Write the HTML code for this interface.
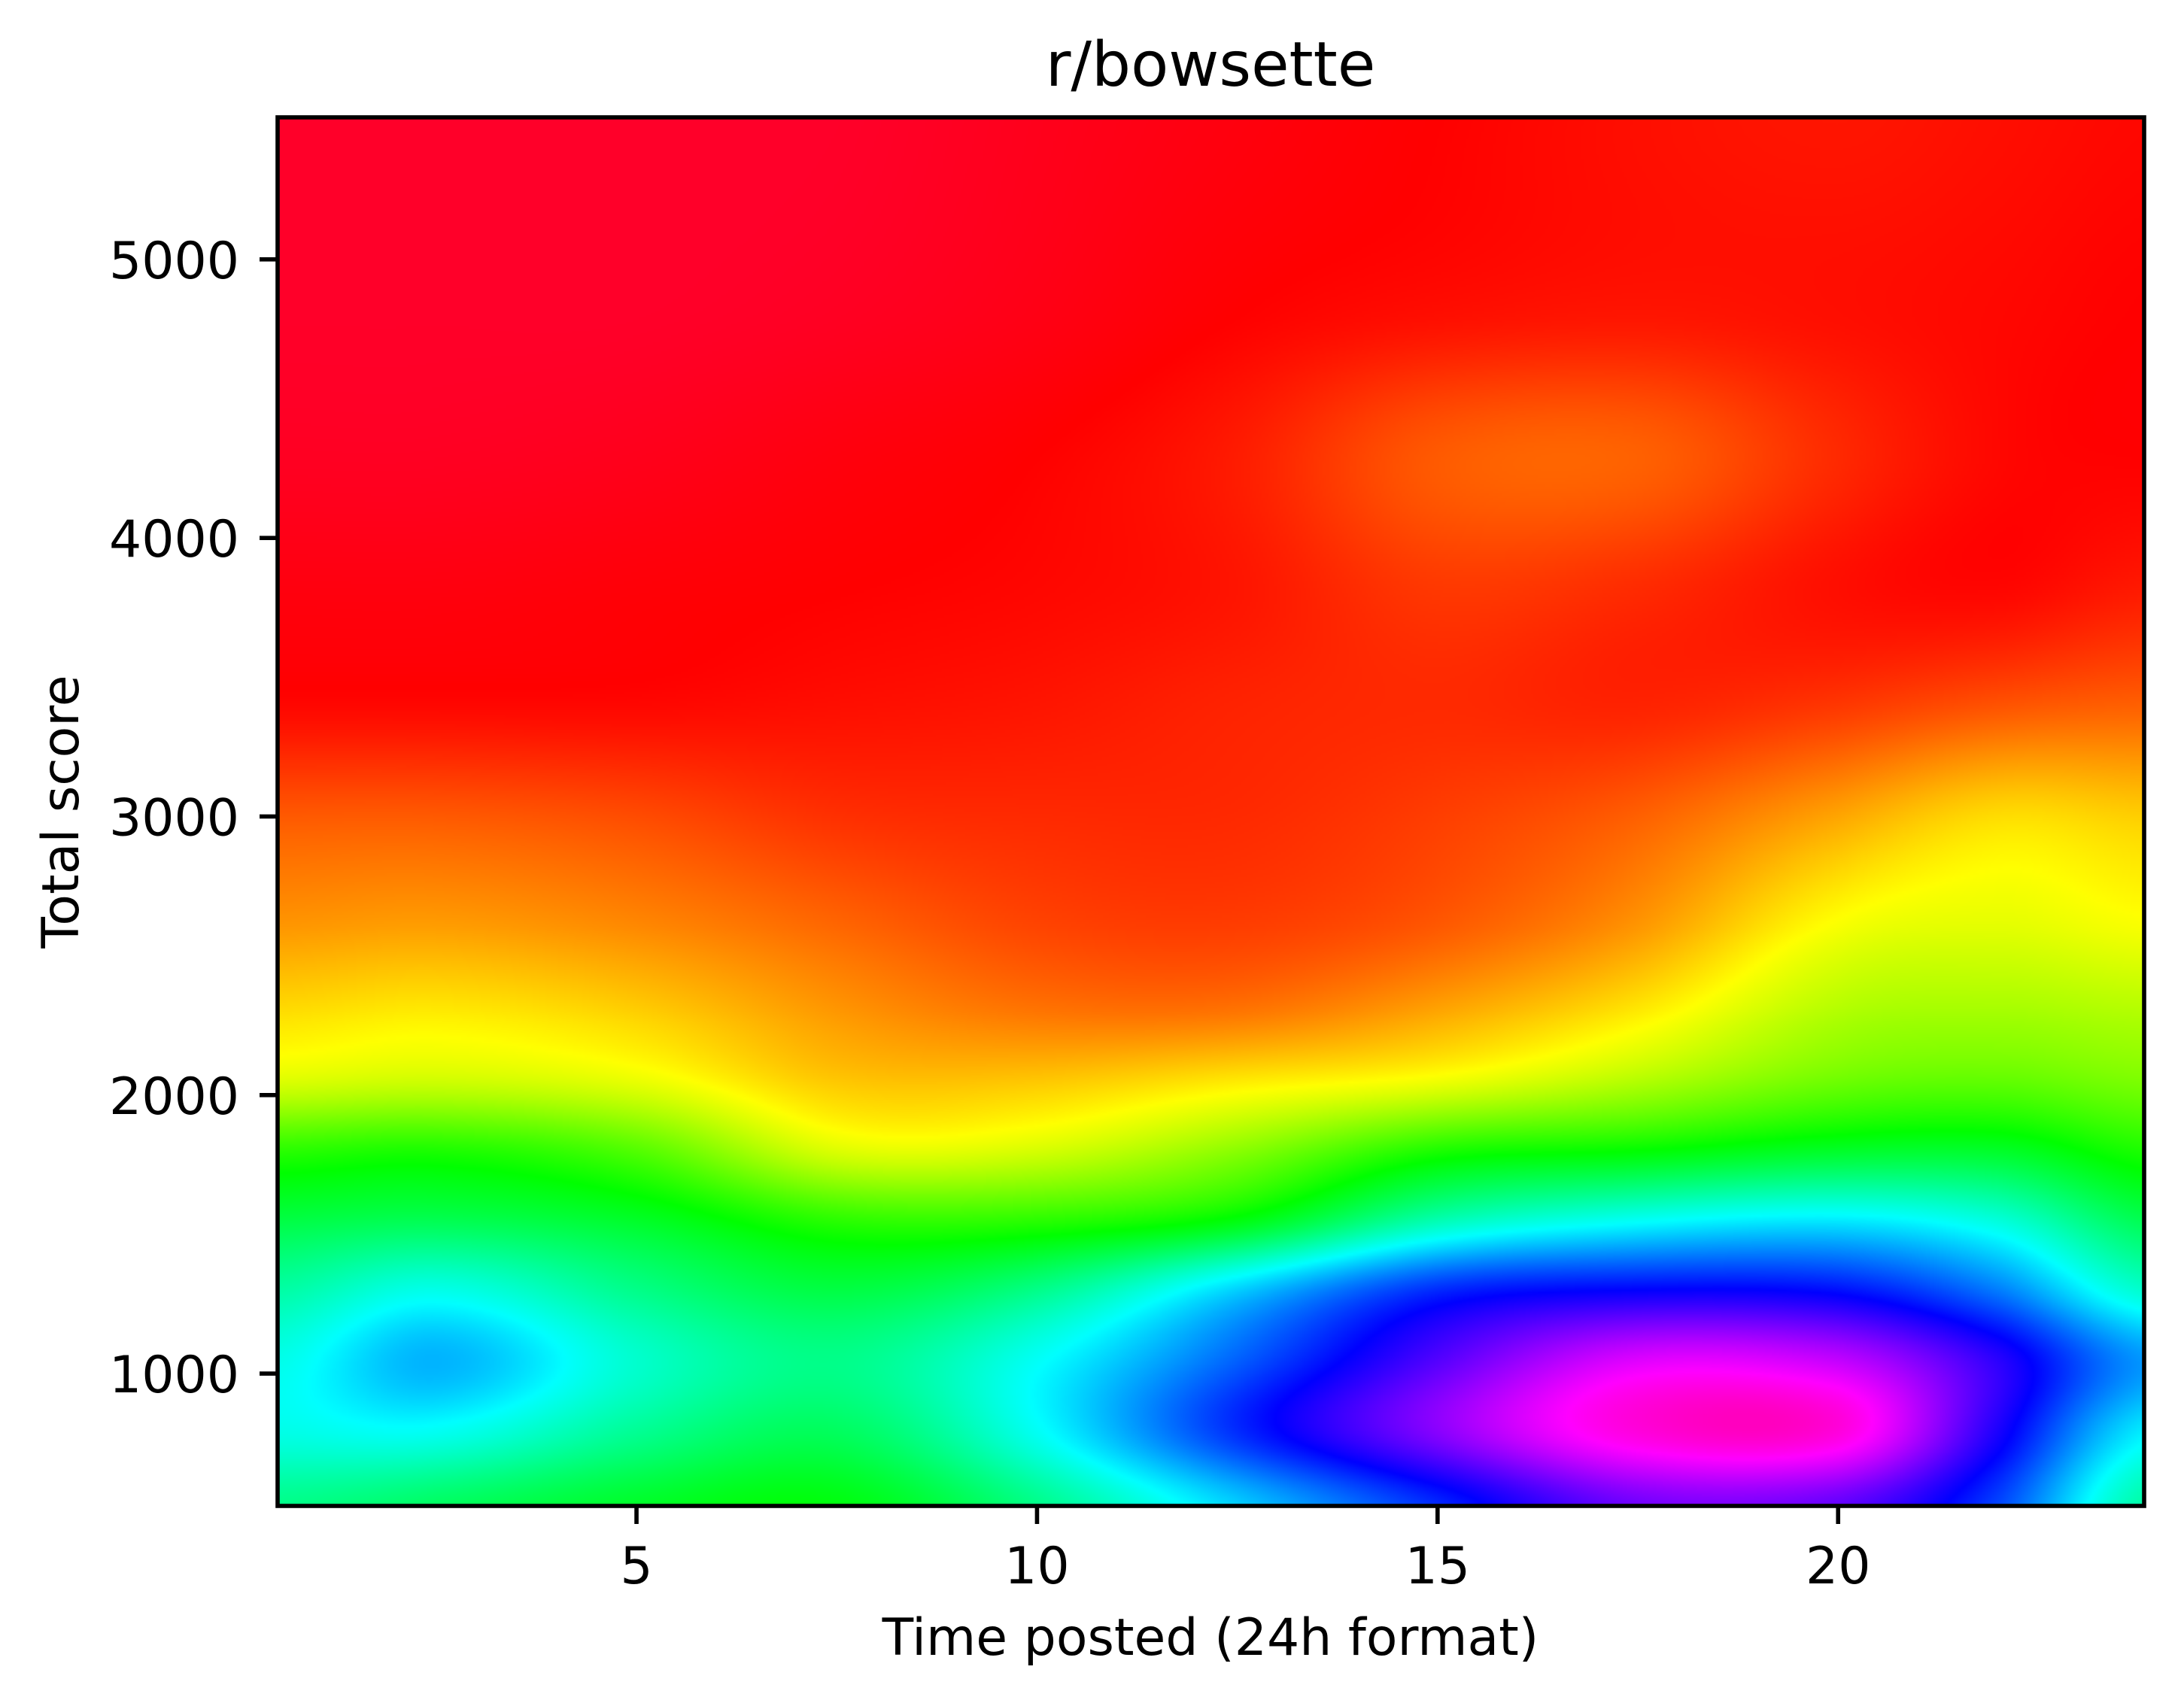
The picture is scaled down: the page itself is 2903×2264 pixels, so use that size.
<!DOCTYPE html>
<html><head><meta charset="utf-8">
<style>
html,body{margin:0;padding:0;background:#fff;}
#wrap{position:relative;width:2903px;height:2264px;overflow:hidden;background:#fff;}
#heat{position:absolute;left:369px;top:156px;width:2481px;height:1846px;}
svg{position:absolute;left:0;top:0;}
text{font-family:"DejaVu Sans","Liberation Sans",sans-serif;fill:#000;}
</style></head>
<body>
<div id="wrap">
<canvas id="heat" width="827" height="615"></canvas>
<svg id="ov" width="2903" height="2264">
<text x="1609" y="114" font-size="82" text-anchor="middle">r/bowsette</text>
<text x="1609" y="2200" font-size="68" text-anchor="middle">Time posted (24h format)</text>
<text transform="translate(104,1079) rotate(-90)" font-size="68" text-anchor="middle">Total score</text>
<g id="xticks"></g>
<g id="yticks"></g>
<rect x="369" y="156" width="2481" height="1846" fill="none" stroke="#000" stroke-width="5.6"/>
</svg>
</div>
<script>
const xKnots = [0.52, 2.5, 5, 7.5, 10, 12.5, 15, 17.5, 20, 22, 23.82];
const yKnots = [525, 800, 1050, 1300, 1550, 1800, 2050, 2300, 2600, 3000, 3400, 3800, 4300, 4800, 5510];
const densityRows = [
 [0.5,0.47,0.43,0.41,0.5,0.62,0.74,0.85,0.84,0.72,0.52],
 [0.57,0.58,0.51,0.47,0.58,0.74,0.87,0.98,0.98,0.79,0.6],
 [0.57,0.64,0.55,0.5,0.58,0.7,0.83,0.93,0.91,0.8,0.66],
 [0.52,0.57,0.5,0.45,0.5,0.62,0.74,0.77,0.76,0.68,0.55],
 [0.45,0.46,0.43,0.37,0.37,0.41,0.53,0.58,0.6,0.56,0.46],
 [0.37,0.38,0.34,0.24,0.245,0.3,0.38,0.40,0.43,0.43,0.38],
 [0.24,0.25,0.23,0.175,0.175,0.2,0.225,0.27,0.32,0.33,0.31],
 [0.19,0.2,0.18,0.14,0.115,0.115,0.15,0.2,0.27,0.28,0.27],
 [0.14,0.145,0.13,0.105,0.08,0.075,0.095,0.14,0.22,0.235,0.22],
 [0.095,0.095,0.085,0.065,0.06,0.06,0.075,0.10,0.15,0.19,0.18],
 [0.035,0.035,0.035,0.04,0.045,0.055,0.06,0.055,0.07,0.09,0.1],
 [0.02,0.02,0.025,0.03,0.035,0.045,0.07,0.06,0.04,0.035,0.05],
 [0.005,0.005,0.01,0.02,0.03,0.05,0.095,0.1,0.06,0.035,0.03],
 [0,0,0,0.005,0.015,0.03,0.04,0.045,0.04,0.035,0.03],
 [0,0,0,0,0.01,0.02,0.03,0.04,0.045,0.04,0.035]
];
const xTickValues = [5, 10, 15, 20];
const xTickLabels = ["5", "10", "15", "20"];
const yTickValues = [1000, 2000, 3000, 4000, 5000];
const yTickLabels = ["1000", "2000", "3000", "4000", "5000"];

const PL = 369, PT = 156, PW = 2481, PH = 1846;
const X0 = 0.52, X1 = 23.82, Y0 = 525, Y1 = 5510;
function xScale(v){ return PL + (v - X0) / (X1 - X0) * PW; }
function yScale(v){ return PT + PH - (v - Y0) / (Y1 - Y0) * PH; }

const cmapStops = [[0,[1,0,0.16]],[0.03,[1,0,0]],[0.215,[1,1,0]],[0.4,[0,1,0]],[0.586,[0,1,1]],[0.77,[0,0,1]],[0.954,[1,0,1]],[1,[1,0,0.75]]];
function cmap(v){
  v = Math.max(0, Math.min(1, v));
  for (let i = 1; i < cmapStops.length; i++) {
    if (v <= cmapStops[i][0]) {
      const a = cmapStops[i-1], b = cmapStops[i];
      const t = (v - a[0]) / (b[0] - a[0]);
      return [0,1,2].map(k => Math.round(255 * (a[1][k] + (b[1][k] - a[1][k]) * t)));
    }
  }
  return [255,0,191];
}
function fracIndex(knots, v){
  if (v <= knots[0]) return 0;
  for (let i = 1; i < knots.length; i++) if (v <= knots[i]) return i - 1 + (v - knots[i-1]) / (knots[i] - knots[i-1]);
  return knots.length - 1;
}
function cr(p0,p1,p2,p3,t){
  return 0.5*((2*p1)+(-p0+p2)*t+(2*p0-5*p1+4*p2-p3)*t*t+(-p0+3*p1-3*p2+p3)*t*t*t);
}
function get(r,c){
  r = Math.max(0, Math.min(densityRows.length-1, r));
  c = Math.max(0, Math.min(xKnots.length-1, c));
  return densityRows[r][c];
}
function sample(fx, fy){
  const ix = Math.floor(fx), iy = Math.floor(fy);
  const tx = fx - ix, ty = fy - iy;
  const cols = [];
  for (let j = -1; j <= 2; j++) {
    cols.push(cr(get(iy+j,ix-1), get(iy+j,ix), get(iy+j,ix+1), get(iy+j,ix+2), tx));
  }
  return cr(cols[0], cols[1], cols[2], cols[3], ty);
}
(function draw(){
  const cv = document.getElementById('heat');
  const ctx = cv.getContext('2d');
  const W = cv.width, H = cv.height;
  const img = ctx.createImageData(W, H);
  const fxs = [];
  for (let i = 0; i < W; i++) fxs.push(fracIndex(xKnots, X0 + (i + 0.5) / W * (X1 - X0)));
  for (let j = 0; j < H; j++) {
    const fy = fracIndex(yKnots, Y1 - (j + 0.5) / H * (Y1 - Y0));
    for (let i = 0; i < W; i++) {
      const c = cmap(sample(fxs[i], fy));
      const o = (j * W + i) * 4;
      img.data[o] = c[0]; img.data[o+1] = c[1]; img.data[o+2] = c[2]; img.data[o+3] = 255;
    }
  }
  ctx.putImageData(img, 0, 0);
})();
(function axes(){
  const NS = 'http://www.w3.org/2000/svg';
  const gx = document.getElementById('xticks');
  xTickValues.forEach((v, i) => {
    const x = xScale(v);
    const ln = document.createElementNS(NS, 'line');
    ln.setAttribute('x1', x); ln.setAttribute('x2', x);
    ln.setAttribute('y1', PT + PH); ln.setAttribute('y2', PT + PH + 24);
    ln.setAttribute('stroke', '#000'); ln.setAttribute('stroke-width', '5.6');
    
    
    gx.appendChild(ln);
    const t = document.createElementNS(NS, 'text');
    t.setAttribute('x', x); t.setAttribute('y', 2105);
    t.setAttribute('font-size', '68'); t.setAttribute('text-anchor', 'middle');
    t.textContent = xTickLabels[i];
    
    
    gx.appendChild(t);
  });
  const gy = document.getElementById('yticks');
  yTickValues.forEach((v, i) => {
    const y = yScale(v);
    const ln = document.createElementNS(NS, 'line');
    ln.setAttribute('x1', PL - 24); ln.setAttribute('x2', PL);
    ln.setAttribute('y1', y); ln.setAttribute('y2', y);
    ln.setAttribute('stroke', '#000'); ln.setAttribute('stroke-width', '5.6');
    
    
    gy.appendChild(ln);
    const t = document.createElementNS(NS, 'text');
    t.setAttribute('x', 318); t.setAttribute('y', y + 25);
    t.setAttribute('font-size', '68'); t.setAttribute('text-anchor', 'end');
    t.textContent = yTickLabels[i];
    
    
    gy.appendChild(t);
  });
})();
</script>
</body></html>
